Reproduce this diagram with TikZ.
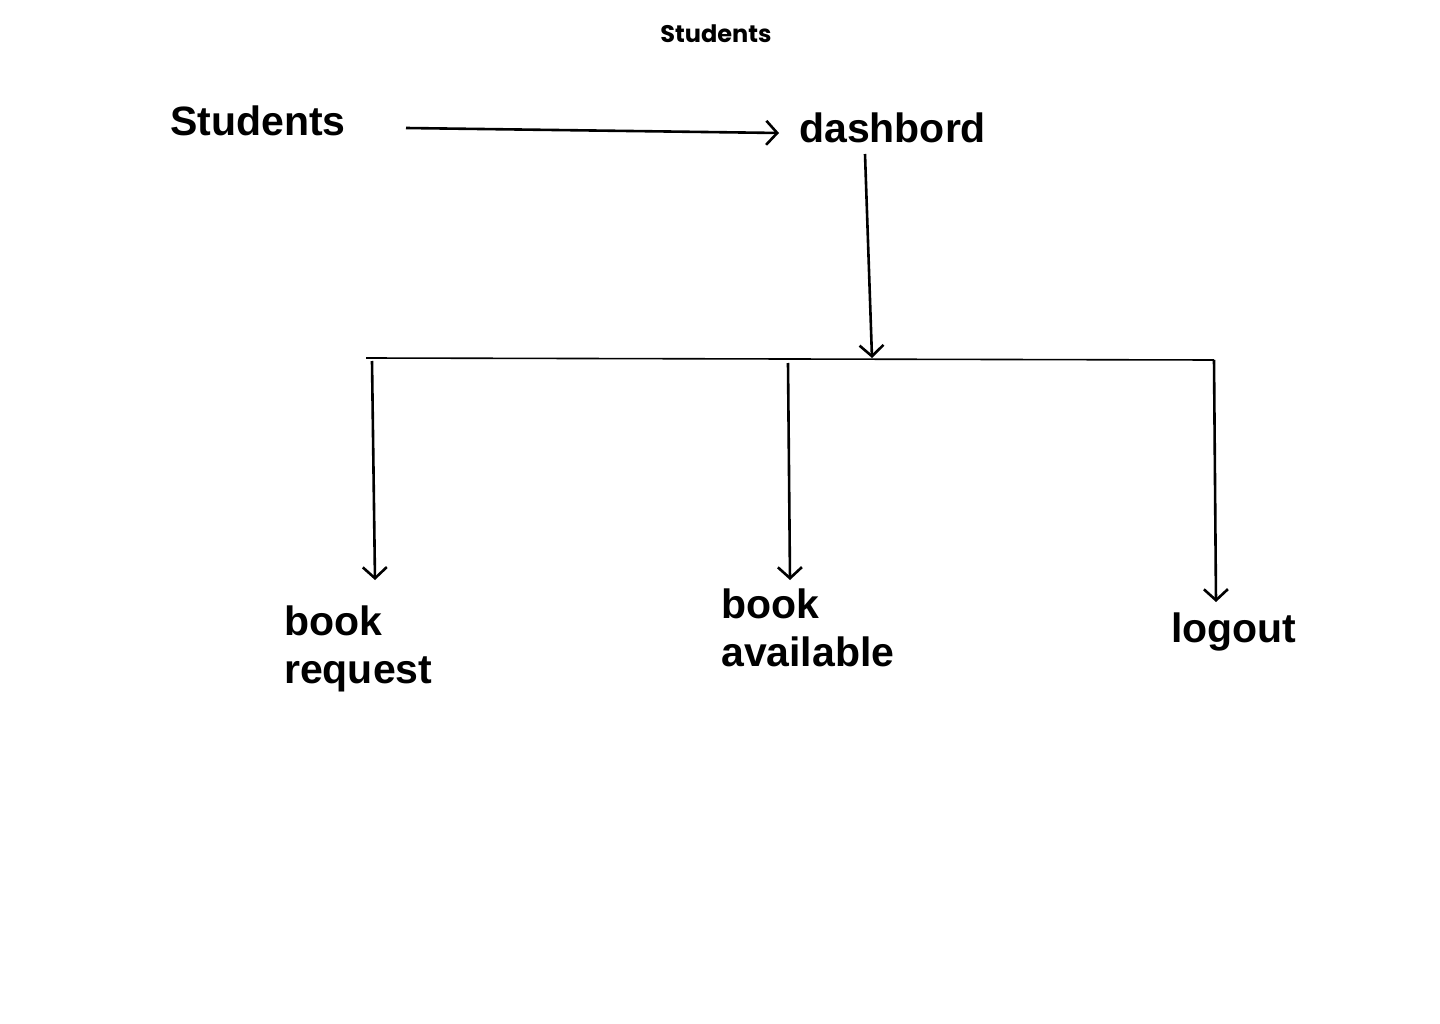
\documentclass[tikz,border=0pt]{standalone}
\usepackage{fontspec}
\setmainfont{Liberation Sans}
\newfontfamily\popfont{Poppins}
\usetikzlibrary{arrows.meta}
\begin{document}
\begin{tikzpicture}[x=1pt,y=-1pt,
  lbl/.style={inner sep=0pt, anchor=base west, font=\fontsize{41}{48}\selectfont\bfseries, align=left},
  lbl2/.style={inner sep=0pt, anchor=north west, font=\fontsize{41}{48}\selectfont\bfseries, align=left},
  arr/.style={line width=2.6pt, -{Straight Barb[length=11pt,width=24pt,line width=2.6pt]}},
  bar/.style={line width=1.6pt}]
\useasboundingbox (0,0) rectangle (1440,1024);
\fill[white] (0,0) rectangle (1440,1024);
\node[inner sep=0pt, anchor=base, font=\popfont\fontsize{24}{26}\selectfont\bfseries] (title) at (716,43) {Students};
\node[lbl] (students) at (170,136) {Students};
\node[lbl] (dash) at (799,143) {dashbord};
\node[lbl2] (req) at (284,606) {book\\request};
\node[lbl2] (avail) at (721,589) {book\\available};
\node[lbl] (logout) at (1171,642) {logout};
\coordinate (s1) at (406,128);
\coordinate (d1) at (779,133);
\coordinate (d2) at (865,154);
\coordinate (h0) at (872,358);
\coordinate (hl) at (366,358);
\coordinate (hr) at (1214,360);
\coordinate (b1) at (372,361);
\coordinate (b2) at (788,363);
\draw[arr] (s1) -- (d1);
\draw[arr] (d2) -- (h0);
\draw[bar] (hl) -- (hr);
\draw[arr] (b1) -- (375,580) coordinate (e1);
\draw[arr] (b2) -- (790,580) coordinate (e2);
\draw[arr] (hr) -- (1216,602) coordinate (e3);
\end{tikzpicture}
\end{document}
